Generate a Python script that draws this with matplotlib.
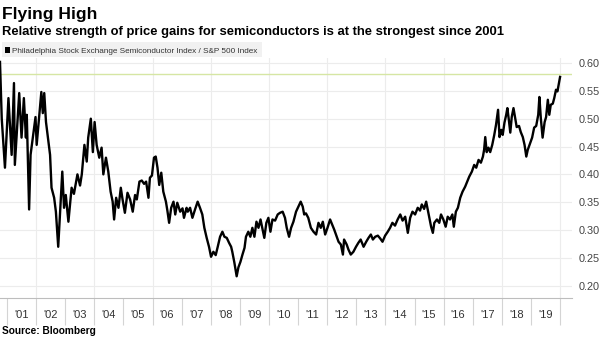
import matplotlib
matplotlib.use("Agg")
import matplotlib.pyplot as plt
from matplotlib.patches import Rectangle

plt.rcParams['font.family'] = ['Liberation Sans', 'DejaVu Sans']

# decimal year of each reading, and the SOX / SPX ratio
years = [
    2000.76, 2000.82, 2000.93, 2001.05, 2001.16, 2001.24, 2001.27, 2001.42, 2001.50, 2001.58,
    2001.65, 2001.68, 2001.76, 2001.81, 2001.90, 2001.98, 2002.02, 2002.11, 2002.18, 2002.23,
    2002.28, 2002.34, 2002.48, 2002.53, 2002.62, 2002.68, 2002.76, 2002.82, 2002.90, 2002.96,
    2003.02, 2003.11, 2003.22, 2003.30, 2003.42, 2003.51, 2003.57, 2003.66, 2003.74, 2003.79,
    2003.88, 2003.95, 2004.01, 2004.08, 2004.17, 2004.25, 2004.31, 2004.40, 2004.48, 2004.56,
    2004.63, 2004.68, 2004.75, 2004.83, 2004.91, 2004.97, 2005.05, 2005.14, 2005.23, 2005.32,
    2005.40, 2005.46, 2005.55, 2005.63, 2005.71, 2005.78, 2005.86, 2005.91, 2005.98, 2006.05,
    2006.11, 2006.17, 2006.23, 2006.30, 2006.37, 2006.46, 2006.51, 2006.57, 2006.64, 2006.72,
    2006.78, 2006.85, 2006.95, 2007.03, 2007.08, 2007.17, 2007.21, 2007.29, 2007.37, 2007.46,
    2007.55, 2007.63, 2007.71, 2007.78, 2007.86, 2007.94, 2008.01, 2008.09, 2008.17, 2008.24,
    2008.32, 2008.40, 2008.47, 2008.55, 2008.63, 2008.70, 2008.74, 2008.81, 2008.89, 2008.95,
    2009.02, 2009.09, 2009.16, 2009.21, 2009.29, 2009.36, 2009.43, 2009.50, 2009.57, 2009.64,
    2009.71, 2009.77, 2009.84, 2009.91, 2009.98, 2010.05, 2010.12, 2010.21, 2010.30, 2010.38,
    2010.47, 2010.55, 2010.61, 2010.69, 2010.76, 2010.84, 2010.93, 2011.01, 2011.09, 2011.16,
    2011.21, 2011.27, 2011.35, 2011.44, 2011.53, 2011.62, 2011.70, 2011.78, 2011.85, 2011.93,
    2012.01, 2012.10, 2012.17, 2012.24, 2012.33, 2012.39, 2012.47, 2012.54, 2012.58, 2012.67,
    2012.73, 2012.81, 2012.90, 2012.99, 2013.07, 2013.15, 2013.25, 2013.34, 2013.42, 2013.50,
    2013.57, 2013.65, 2013.74, 2013.82, 2013.90, 2013.99, 2014.08, 2014.16, 2014.24, 2014.33,
    2014.42, 2014.51, 2014.59, 2014.68, 2014.77, 2014.85, 2014.93, 2015.02, 2015.11, 2015.19,
    2015.25, 2015.33, 2015.40, 2015.46, 2015.51, 2015.57, 2015.63, 2015.68, 2015.77, 2015.85,
    2015.91, 2015.99, 2016.07, 2016.14, 2016.22, 2016.30, 2016.35, 2016.42, 2016.49, 2016.57,
    2016.65, 2016.74, 2016.81, 2016.88, 2016.97, 2017.05, 2017.12, 2017.20, 2017.28, 2017.35,
    2017.39, 2017.43, 2017.48, 2017.54, 2017.60, 2017.67, 2017.74, 2017.80, 2017.87, 2017.92,
    2017.98, 2018.03, 2018.09, 2018.15, 2018.19, 2018.24, 2018.29, 2018.34, 2018.40, 2018.46,
    2018.51, 2018.59, 2018.65, 2018.72, 2018.78, 2018.84, 2018.89, 2018.97, 2019.04, 2019.11,
    2019.18, 2019.25, 2019.29, 2019.34, 2019.40, 2019.47, 2019.52, 2019.58, 2019.63, 2019.68,
    2019.75, 2019.80, 2019.86, 2019.91, 2019.96, 2020.00,
]
ratio = [
    0.602, 0.500, 0.412, 0.537, 0.435, 0.564, 0.417, 0.546, 0.466, 0.537,
    0.466, 0.507, 0.337, 0.435, 0.471, 0.503, 0.453, 0.507, 0.548, 0.510,
    0.546, 0.494, 0.435, 0.376, 0.358, 0.333, 0.270, 0.328, 0.405, 0.340,
    0.363, 0.315, 0.376, 0.365, 0.400, 0.380, 0.400, 0.453, 0.423, 0.466,
    0.500, 0.440, 0.494, 0.453, 0.430, 0.448, 0.400, 0.430, 0.405, 0.369,
    0.351, 0.319, 0.358, 0.340, 0.376, 0.355, 0.331, 0.367, 0.355, 0.333,
    0.363, 0.355, 0.387, 0.389, 0.383, 0.387, 0.358, 0.394, 0.398, 0.430,
    0.432, 0.412, 0.381, 0.403, 0.369, 0.351, 0.335, 0.313, 0.340, 0.351,
    0.328, 0.349, 0.333, 0.339, 0.322, 0.340, 0.333, 0.340, 0.322, 0.337,
    0.351, 0.340, 0.328, 0.304, 0.286, 0.270, 0.252, 0.261, 0.255, 0.270,
    0.288, 0.297, 0.288, 0.286, 0.277, 0.270, 0.261, 0.242, 0.217, 0.233,
    0.243, 0.256, 0.268, 0.288, 0.297, 0.288, 0.304, 0.288, 0.315, 0.304,
    0.319, 0.304, 0.286, 0.313, 0.322, 0.297, 0.319, 0.317, 0.328, 0.331,
    0.333, 0.322, 0.304, 0.288, 0.304, 0.315, 0.333, 0.342, 0.351, 0.342,
    0.328, 0.330, 0.322, 0.304, 0.297, 0.292, 0.313, 0.304, 0.315, 0.292,
    0.304, 0.319, 0.310, 0.301, 0.288, 0.279, 0.274, 0.256, 0.283, 0.274,
    0.265, 0.256, 0.261, 0.270, 0.277, 0.283, 0.270, 0.279, 0.286, 0.292,
    0.283, 0.288, 0.290, 0.285, 0.279, 0.290, 0.297, 0.304, 0.313, 0.308,
    0.319, 0.328, 0.317, 0.324, 0.295, 0.322, 0.333, 0.328, 0.340, 0.335,
    0.346, 0.338, 0.351, 0.335, 0.322, 0.306, 0.295, 0.313, 0.319, 0.313,
    0.328, 0.319, 0.306, 0.324, 0.319, 0.328, 0.306, 0.333, 0.340, 0.358,
    0.369, 0.378, 0.387, 0.396, 0.405, 0.417, 0.412, 0.426, 0.421, 0.432,
    0.444, 0.467, 0.440, 0.448, 0.440, 0.453, 0.471, 0.489, 0.516, 0.467,
    0.480, 0.471, 0.493, 0.507, 0.519, 0.498, 0.475, 0.503, 0.519, 0.501,
    0.485, 0.487, 0.476, 0.467, 0.453, 0.432, 0.444, 0.456, 0.466, 0.484,
    0.487, 0.507, 0.539, 0.500, 0.466, 0.494, 0.503, 0.534, 0.507, 0.525,
    0.527, 0.537, 0.552, 0.549, 0.564, 0.575,
]

year_ticks = list(range(2001, 2021))
year_labels = ["'%02d" % (y % 100) for y in range(2001, 2020)]
y_ticks = [0.20, 0.25, 0.30, 0.35, 0.40, 0.45, 0.50, 0.55, 0.60]
record_level = 0.58

W, H = 600, 337
fig = plt.figure(figsize=(W / 100, H / 100), dpi=100)
ax = fig.add_axes([0, 39 / H, 572 / W, 240 / H])

ax.plot(years, ratio, color='black', lw=1.7, zorder=3)
ax.axhline(record_level, color='#d6e6a4', lw=1.0, zorder=2)

for y in range(2002, 2021, 2):
    ax.axvline(y, color='#ececec', lw=0.8, zorder=0)

ax.set_xlim(2000.76, 2020.41)
ax.set_ylim(0.178, 0.609)

ax.set_xticks(year_ticks)
ax.set_xticklabels([])
ax.set_xticks([y + 0.5 for y in range(2001, 2020)], minor=True)
ax.set_xticklabels(year_labels, minor=True)
ax.tick_params(axis='x', which='major', length=19.5, width=0.8, color='#d4d4d4', direction='out')
ax.tick_params(axis='x', which='minor', length=0, pad=9, labelsize=8, labelcolor='#333333')

ax.yaxis.tick_right()
ax.set_yticks(y_ticks)
ax.set_yticklabels(['%.2f' % v for v in y_ticks])
ax.tick_params(axis='y', length=0, pad=5, labelsize=7.8, labelcolor='#444444')
ax.yaxis.grid(True, color='#ececec', lw=0.8)
ax.set_axisbelow(True)

for side in ['top', 'left', 'right']:
    ax.spines[side].set_visible(False)
ax.spines['bottom'].set_color('#bdbdbd')
ax.spines['bottom'].set_linewidth(0.8)

fig.text(2 / W, 1 - 19 / H, "Flying High", fontsize=12.6, fontweight='bold', va='baseline')
fig.text(2 / W, 1 - 34.5 / H,
         "Relative strength of price gains for semiconductors is at the strongest since 2001",
         fontsize=9.4, fontweight='bold', va='baseline')

fig.patches.append(Rectangle((2 / W, 1 - 57 / H), 260 / W, 15 / H, transform=fig.transFigure,
                             facecolor='#f1f1f1', edgecolor='none', zorder=0))
fig.patches.append(Rectangle((5 / W, 1 - 53 / H), 4.5 / W, 6 / H, transform=fig.transFigure,
                             facecolor='black', edgecolor='none'))
fig.text(12 / W, 1 - 53 / H, "Philadelphia Stock Exchange Semiconductor Index / S&P 500 Index",
         fontsize=5.9, color='#333333', va='baseline')

fig.text(2 / W, 1 - 334 / H, "Source: Bloomberg", fontsize=7.3, fontweight='bold', va='baseline')

fig.savefig("out.png", dpi=100)
